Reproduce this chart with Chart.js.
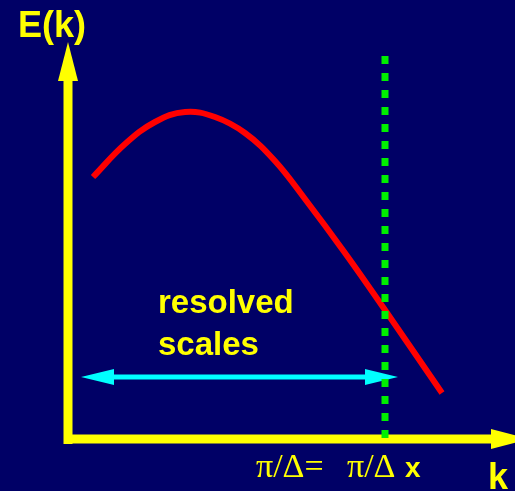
<!DOCTYPE html>
<html>
<head>
<meta charset="utf-8">
<script src="https://cdn.jsdelivr.net/npm/chart.js@4.4.1/dist/chart.umd.min.js"></script>
<style>
  html, body { margin: 0; padding: 0; background: #000066; overflow: hidden; }
</style>
</head>
<body>
<canvas id="spectrum" width="515" height="491"></canvas>
<script>
// spectrum curve E(k), schematic units (k to the right, E upward)
const kValues = [93, 125, 155, 185, 215, 245, 275, 305, 345, 385, 442];
const energy = [314, 347, 369, 379, 374, 358, 330, 292, 238, 181, 98];

// axes and markers
const kAxisRange = [64, 492];
const kAxisLevel = 52;
const eAxisRange = [47, 411];
const eAxisPos = 68;
const cutoffK = 385;
const cutoffRange = [435, 51];
const resolvedRange = [113, 366];
const resolvedLevel = 114;

// text
const axisTitles = ['E(k)', 'k'];
const noteLines = ['resolved', 'scales'];
const cutoffLabels = ['π/Δ=', 'π/Δ', 'x'];

const YELLOW = '#ffff00';
const SANS = '"Liberation Sans", Arial, sans-serif';
const SERIF = '"Liberation Serif", "Times New Roman", serif';

const seg = (xs, ys) => xs.map((x, i) => ({ x: x, y: ys[i] }));

const background = {
    id: 'background',
    beforeDraw(chart) {
        const ctx = chart.ctx;
        ctx.save();
        ctx.fillStyle = '#000066';
        ctx.fillRect(0, 0, chart.width, chart.height);
        ctx.restore();
    }
};

// arrow heads drawn right after their own dataset so layering is kept
const arrowHeads = {
    id: 'arrowHeads',
    afterDatasetDraw(chart, args) {
        const ds = chart.data.datasets[args.index];
        if (!ds.arrows) return;
        const pts = args.meta.data;
        const ends = [];
        if (ds.arrows.end) ends.push([pts[pts.length - 2], pts[pts.length - 1]]);
        if (ds.arrows.start) ends.push([pts[1], pts[0]]);
        const ctx = chart.ctx;
        ends.forEach(([a, b]) => {
            const ang = Math.atan2(b.y - a.y, b.x - a.x);
            const L = ds.arrows.length, W = ds.arrows.width / 2;
            ctx.save();
            ctx.translate(b.x, b.y);
            ctx.rotate(ang);
            ctx.beginPath();
            ctx.moveTo(-1, -W);
            ctx.lineTo(L, 0);
            ctx.lineTo(-1, W);
            ctx.closePath();
            ctx.fillStyle = ds.borderColor;
            ctx.fill();
            ctx.restore();
        });
    }
};

const labels = {
    id: 'labels',
    afterDraw(chart) {
        const ctx = chart.ctx;
        const xs = chart.scales.x, ys = chart.scales.y;
        const put = (text, k, e, font) => {
            ctx.font = font;
            ctx.fillText(text, xs.getPixelForValue(k), ys.getPixelForValue(e));
        };
        ctx.save();
        ctx.fillStyle = YELLOW;
        ctx.textBaseline = 'alphabetic';
        ctx.textAlign = 'left';
        put(axisTitles[0], 18, 454, 'bold 36px ' + SANS);
        put(axisTitles[1], 488, 2, 'bold 36px ' + SANS);
        put(noteLines[0], 158, 178, 'bold 33px ' + SANS);
        put(noteLines[1], 158, 136, 'bold 33px ' + SANS);
        put(cutoffLabels[0], 256, 14, '34px ' + SERIF);
        put(cutoffLabels[1], 347, 14, '34px ' + SERIF);
        put(cutoffLabels[2], 405, 14, 'bold 28px ' + SANS);
        ctx.restore();
    }
};

new Chart(document.getElementById('spectrum'), {
    type: 'scatter',
    data: {
        datasets: [
            {
                // grid cutoff
                data: seg([cutoffK, cutoffK], cutoffRange),
                borderColor: '#00f000',
                borderWidth: 7,
                borderDash: [8, 9]
            },
            {
                // resolved scales
                data: seg(resolvedRange, [resolvedLevel, resolvedLevel]),
                borderColor: '#00ffff',
                borderWidth: 5,
                arrows: { start: true, end: true, length: 32, width: 16 }
            },
            {
                data: seg(kValues, energy),
                borderColor: '#ff0000',
                borderWidth: 6,
                tension: 0.4
            },
            {
                // k axis
                data: seg(kAxisRange, [kAxisLevel, kAxisLevel]),
                borderColor: YELLOW,
                borderWidth: 9,
                arrows: { end: true, length: 38, width: 20 }
            },
            {
                // E axis
                data: seg([eAxisPos, eAxisPos], eAxisRange),
                borderColor: YELLOW,
                borderWidth: 9,
                arrows: { end: true, length: 38, width: 20 }
            }
        ]
    },
    options: {
        responsive: false,
        animation: false,
        layout: { padding: 0 },
        showLine: true,
        datasets: { scatter: { showLine: true, pointRadius: 0, pointHoverRadius: 0, clip: false } },
        scales: {
            x: { type: 'linear', min: 0, max: 515, display: false },
            y: { type: 'linear', min: 0, max: 491, display: false }
        },
        plugins: {
            legend: { display: false },
            tooltip: { enabled: false }
        }
    },
    plugins: [background, arrowHeads, labels]
});
</script>
</body>
</html>
